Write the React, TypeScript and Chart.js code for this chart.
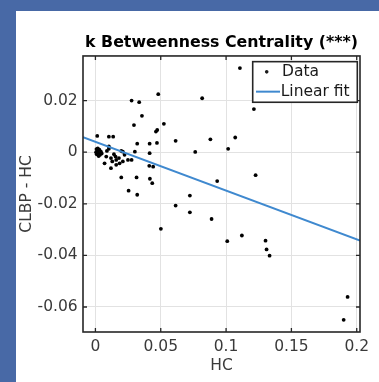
import React, { useEffect, useRef } from 'react';
import { Chart, registerables } from 'chart.js';

Chart.register(...registerables);

const titleText = 'k Betweenness Centrality (***)';
const xLabel = 'HC';
const yLabel = 'CLBP - HC';
const seriesNames = ['Data', 'Linear fit'];

const dataX = [
  0.1106, 0.0277, 0.0335, 0.0481, 0.0817, 0.1213, 0.0356, 0.0295, 0.0524, 0.0473,
  0.0463, 0.0014, 0.0103, 0.0136, 0.0614, 0.0880, 0.1070, 0.0320, 0.0415, 0.0471,
  0.0103, 0.0764, 0.1016, 0.0302, 0.0415, 0.0277,
  0.0008, 0.0015, 0.0022, 0.0010, 0.0030, 0.0035, 0.0042, 0.0025, 0.0048, 0.0005, 0.0018,
  0.0088, 0.0103, 0.0083, 0.0119, 0.0142, 0.0154, 0.0129, 0.0159, 0.0180, 0.0198,
  0.0210, 0.0223, 0.0210, 0.0185, 0.0159, 0.0119, 0.0070, 0.0249, 0.0198, 0.0315,
  0.0412, 0.0442, 0.0417, 0.0435, 0.0254, 0.0320, 0.0501, 0.0614, 0.0723, 0.0723,
  0.0889, 0.0932, 0.1226, 0.1009, 0.1121, 0.1302, 0.1310, 0.1333, 0.1930, 0.1900,
];
const dataY = [
  0.0326, 0.0200, 0.0194, 0.0225, 0.0209, 0.0167, 0.0141, 0.0105, 0.0110, 0.0086,
  0.0080, 0.0063, 0.0060, 0.0060, 0.0044, 0.0050, 0.0057, 0.0033, 0.0033, 0.0036,
  0.0022, 0.0001, 0.0013, 0.0002, -0.0004, -0.0030,
  0.0012, 0.0005, -0.0002, -0.0008, 0.0010, -0.0010, 0.0002, -0.0015, -0.0005, 0.0000, 0.0015,
  0.0005, 0.0013, -0.0017, -0.0023, -0.0008, -0.0017, -0.0036, -0.0030, -0.0023, 0.0005,
  0.0002, -0.0010, -0.0036, -0.0043, -0.0049, -0.0062, -0.0043, -0.0030, -0.0098, -0.0098,
  -0.0053, -0.0056, -0.0103, -0.0120, -0.0149, -0.0165, -0.0297, -0.0207, -0.0168, -0.0233,
  -0.0259, -0.0112, -0.0089, -0.0345, -0.0323, -0.0343, -0.0377, -0.0401, -0.0561, -0.0650,
];

const fitX = [-0.0095, 0.2025];
const fitY = [0.0058, -0.0343];

const xRange = [-0.0095, 0.2025];
const yRange = [-0.0697, 0.0373];
const xTicks = [0, 0.05, 0.1, 0.15, 0.2];
const yTicks = [-0.06, -0.04, -0.02, 0, 0.02];

const FONT = 'DejaVu Sans';
const AXIS_COLOR = '#262626';
const TEXT_COLOR = '#3a3a3a';
const FIT_COLOR = '#3f89cf';

const bgPlugin = {
  id: 'bgPanel',
  beforeDraw(chart: any) {
    const ctx = chart.ctx;
    ctx.save();
    ctx.fillStyle = '#4869a6';
    ctx.fillRect(0, 0, chart.width, chart.height);
    ctx.fillStyle = '#ffffff';
    ctx.fillRect(16, 11, chart.width - 16, chart.height - 11);
    ctx.restore();
  },
};

const boxPlugin = {
  id: 'boxTicks',
  afterDraw(chart: any) {
    const ctx = chart.ctx;
    const { left, right, top, bottom } = chart.chartArea;
    const xs = chart.scales.x;
    const ys = chart.scales.y;
    const tl = 4;
    ctx.save();
    ctx.strokeStyle = AXIS_COLOR;
    ctx.lineWidth = 1.3;
    ctx.beginPath();
    xs.ticks.forEach((t: any) => {
      const px = xs.getPixelForValue(t.value);
      ctx.moveTo(px, bottom);
      ctx.lineTo(px, bottom - tl);
      ctx.moveTo(px, top);
      ctx.lineTo(px, top + tl);
    });
    ys.ticks.forEach((t: any) => {
      const py = ys.getPixelForValue(t.value);
      ctx.moveTo(left, py);
      ctx.lineTo(left + tl, py);
      ctx.moveTo(right, py);
      ctx.lineTo(right - tl, py);
    });
    ctx.stroke();
    ctx.lineWidth = 1.6;
    ctx.strokeRect(left, top, right - left, bottom - top);

    // legend
    const w = 104.6;
    const h = 40.6;
    const lx = right - 2.7 - w;
    const ly = top + 5.7;
    ctx.fillStyle = '#ffffff';
    ctx.fillRect(lx, ly, w, h);
    ctx.lineWidth = 1.6;
    ctx.strokeStyle = AXIS_COLOR;
    ctx.strokeRect(lx, ly, w, h);
    ctx.font = `15.5px "${FONT}"`;
    ctx.textBaseline = 'middle';
    ctx.textAlign = 'left';
    ctx.fillStyle = '#1a1a1a';
    const r1 = ly + 10.2;
    const r2 = ly + 30;
    ctx.beginPath();
    ctx.arc(lx + 14, r1, 1.8, 0, Math.PI * 2);
    ctx.fill();
    ctx.fillText(chart.data.datasets[0].label, lx + 29.3, r1 + 0.5);
    ctx.strokeStyle = FIT_COLOR;
    ctx.lineWidth = 2;
    ctx.beginPath();
    ctx.moveTo(lx + 3.3, r2);
    ctx.lineTo(lx + 27.3, r2);
    ctx.stroke();
    ctx.fillStyle = '#1a1a1a';
    ctx.fillText(chart.data.datasets[1].label, lx + 28, r2 + 0.5);
    ctx.restore();
  },
};

export default function App() {
  const ref = useRef<HTMLCanvasElement | null>(null);

  useEffect(() => {
    if (!ref.current) return;
    const tickFont = { family: FONT, size: 15.5 };
    const chart = new Chart(ref.current, {
      type: 'scatter',
      data: {
        datasets: [
          {
            label: seriesNames[0],
            data: dataX.map((x, i) => ({ x, y: dataY[i] })),
            pointRadius: 1.9,
            pointBackgroundColor: '#000',
            pointBorderWidth: 0,
            backgroundColor: '#000',
            order: 1,
          },
          {
            label: seriesNames[1],
            type: 'line',
            data: fitX.map((x, i) => ({ x, y: fitY[i] })),
            borderColor: FIT_COLOR,
            borderWidth: 2,
            pointRadius: 0,
            showLine: true,
            fill: false,
            order: 0,
          } as any,
        ],
      },
      options: {
        animation: false,
        responsive: false,
        devicePixelRatio: 1,
        layout: { padding: { left: 16, right: 19, top: 0, bottom: 0 } },
        plugins: {
          legend: { display: false },
          tooltip: { enabled: false },
          title: {
            display: true,
            text: titleText,
            fullSize: false,
            color: '#000',
            font: { family: FONT, size: 15.8, weight: 'bold' },
            padding: { top: 33.5, bottom: 3.5 },
          },
        },
        scales: {
          x: {
            type: 'linear',
            min: xRange[0],
            max: xRange[1],
            afterBuildTicks: (s: any) => {
              s.ticks = xTicks.map((v) => ({ value: v }));
            },
            afterFit: (s: any) => {
              s.height = 50;
            },
            ticks: {
              font: tickFont,
              color: TEXT_COLOR,
              padding: 6,
              autoSkip: false,
              maxRotation: 0,
              includeBounds: false,
              callback: (v: any) => String(v),
            },
            grid: { color: '#e2e2e2', lineWidth: 1, drawTicks: false },
            border: { display: false },
            title: {
              display: true,
              text: xLabel,
              color: TEXT_COLOR,
              font: tickFont,
              padding: { top: 0, bottom: 6.7 },
            },
          },
          y: {
            type: 'linear',
            min: yRange[0],
            max: yRange[1],
            afterBuildTicks: (s: any) => {
              s.ticks = yTicks.map((v) => ({ value: v }));
            },
            afterFit: (s: any) => {
              s.width = 67;
            },
            ticks: {
              font: tickFont,
              color: TEXT_COLOR,
              padding: 5.3,
              autoSkip: false,
              includeBounds: false,
              callback: (v: any) => String(v),
            },
            grid: { color: '#e2e2e2', lineWidth: 1, drawTicks: false },
            border: { display: false },
            title: {
              display: true,
              text: yLabel,
              color: TEXT_COLOR,
              font: tickFont,
              padding: { top: 1.4, bottom: 0 },
            },
          },
        },
      } as any,
      plugins: [bgPlugin, boxPlugin],
    });
    return () => chart.destroy();
  }, []);

  return (
    <div style={{ position: 'fixed', left: 0, top: 0, width: 379, height: 382 }}>
      <canvas ref={ref} width={379} height={382} style={{ display: 'block' }} />
    </div>
  );
}
